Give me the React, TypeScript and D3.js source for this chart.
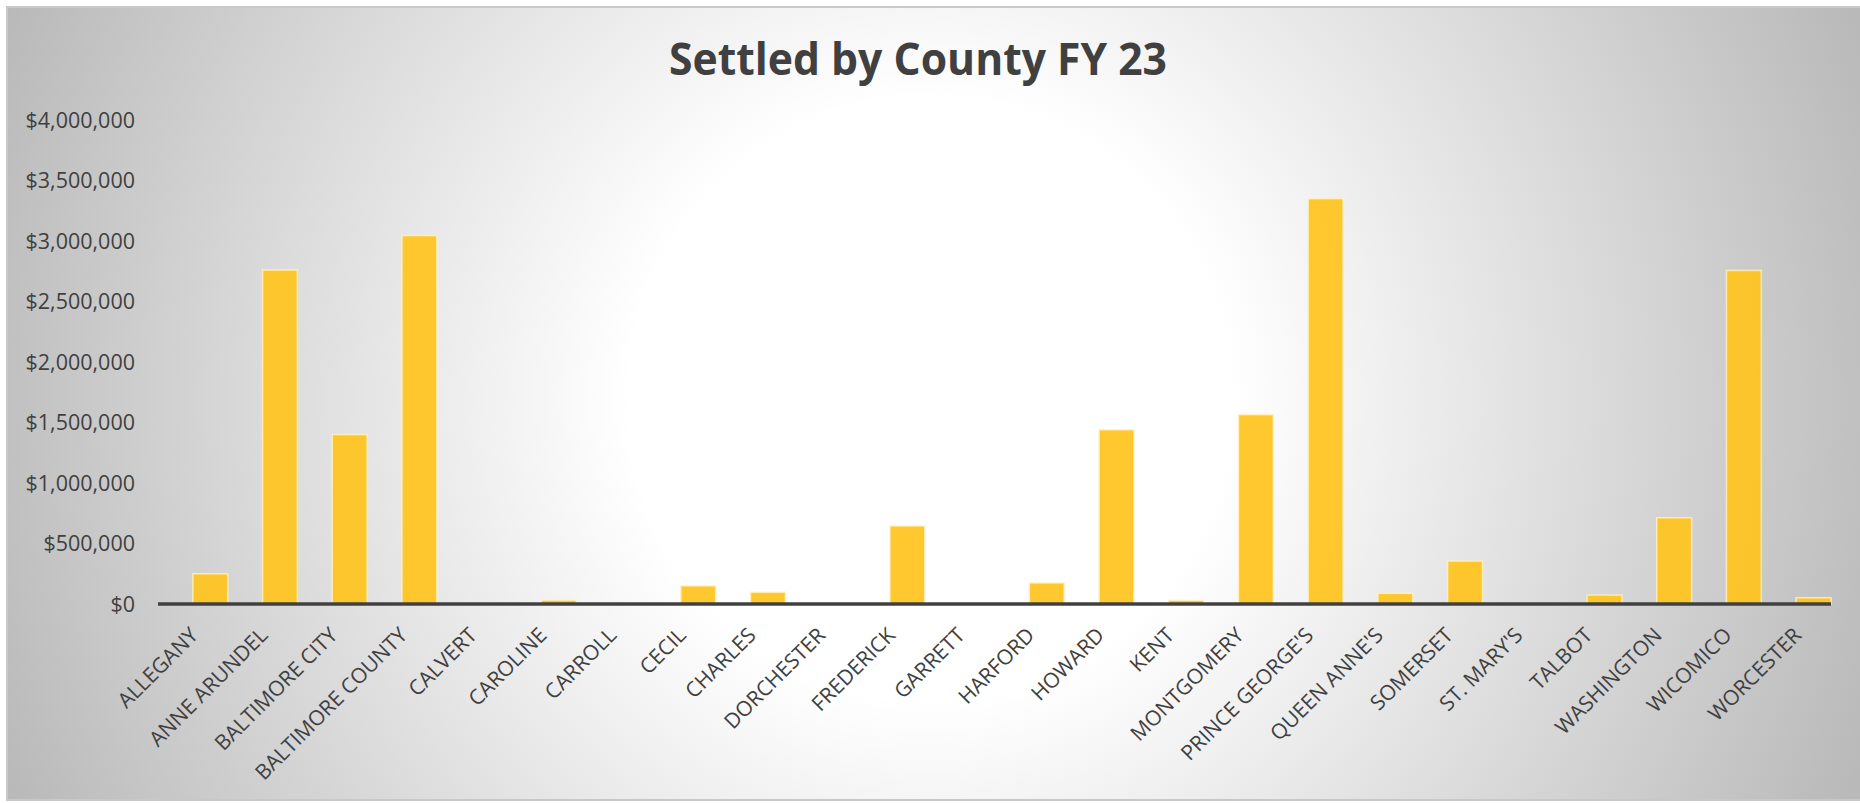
import React, { useEffect } from 'react';
import * as d3 from 'd3';

const counties = [
  'ALLEGANY', 'ANNE ARUNDEL', 'BALTIMORE CITY', 'BALTIMORE COUNTY', 'CALVERT',
  'CAROLINE', 'CARROLL', 'CECIL', 'CHARLES', 'DORCHESTER', 'FREDERICK', 'GARRETT',
  'HARFORD', 'HOWARD', 'KENT', 'MONTGOMERY', "PRINCE GEORGE'S", "QUEEN ANNE'S",
  'SOMERSET', "ST. MARY'S", 'TALBOT', 'WASHINGTON', 'WICOMICO', 'WORCESTER',
];

const settled = [
  250000, 2760000, 1400000, 3045000, 0,
  32000, 0, 150000, 97000, 0, 645000, 0,
  174000, 1440000, 30000, 1565000, 3350000, 88000,
  355000, 0, 74000, 713000, 2757000, 52000,
];

const yTicks = [0, 500000, 1000000, 1500000, 2000000, 2500000, 3000000, 3500000, 4000000];

const title = 'Settled by County FY 23';

const W = 1860;
const H = 803;

const App = () => {
  useEffect(() => {
    document.body.style.margin = '0';
    document.body.style.overflow = 'hidden';
  }, []);

  const x = d3.scaleBand<string>().domain(counties).range([158, 1831]).padding(0);
  const y = d3.scaleLinear().domain([0, 4000000]).range([604, 120]);
  const bw = x.bandwidth();
  const fmt = d3.format(',');
  const font = "'Open Sans', sans-serif";

  return (
    <svg width={W} height={H} style={{ display: 'block', background: '#fff' }}>
      <defs>
        <radialGradient id="bg" gradientUnits="userSpaceOnUse" cx={930} cy={400} r={1000}>
          <stop offset="0.3" stopColor="#ffffff" />
          <stop offset="1" stopColor="#b9b9b9" />
        </radialGradient>
      </defs>
      <rect x={7} y={7} width={1950} height={793} fill="url(#bg)" stroke="#c8c8c8" strokeWidth={2} />

      <text
        x={918}
        y={75}
        textAnchor="middle"
        fontFamily={font}
        fontWeight={700}
        fontSize={45}
        fill="#404040"
        textLength={498}
        lengthAdjust="spacingAndGlyphs"
      >
        {title}
      </text>

      {yTicks.map(t => (
        <text
          key={t}
          x={135}
          y={y(t)}
          dy="0.35em"
          textAnchor="end"
          fontFamily={font}
          fontSize={21.5}
          fill="#404040"
        >
          {'$' + fmt(t)}
        </text>
      ))}

      {counties.map((c, i) => (
        <rect
          key={c}
          x={(x(c) as number) + bw / 2}
          y={y(settled[i])}
          width={bw / 2}
          height={y(0) - y(settled[i])}
          fill="#ffc41f"
          fillOpacity={0.93}
          stroke="#fff3c4"
          strokeOpacity={0.8}
          strokeWidth={1.5}
        />
      ))}

      <line x1={158} x2={1831} y1={y(0)} y2={y(0)} stroke="#404040" strokeWidth={3.5} />

      {counties.map(c => {
        const cx = (x(c) as number) + bw / 2 - 4;
        return (
          <text
            key={c}
            transform={`translate(${cx},626) rotate(-45)`}
            dy="0.71em"
            textAnchor="end"
            fontFamily={font}
            fontSize={21}
            fill="#404040"
          >
            {c}
          </text>
        );
      })}
    </svg>
  );
};

export default App;
